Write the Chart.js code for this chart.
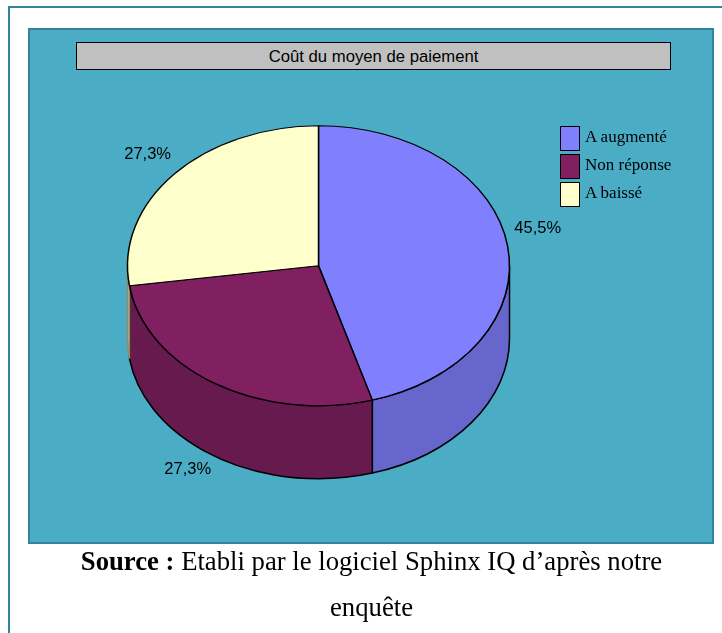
<!DOCTYPE html>
<html lang="fr">
<head>
<meta charset="utf-8">
<title>Coût du moyen de paiement</title>
<script src="https://cdn.jsdelivr.net/npm/chart.js@4"></script>
<style>
    html, body { margin: 0; padding: 0; background: #fff; }
    #page { position: relative; width: 722px; height: 633px; overflow: hidden; }
    #frame { position: absolute; left: 8px; top: 6px; width: 730px; height: 660px; border: 2px solid #31859b; }
    #panel { position: absolute; left: 28px; top: 28px; width: 682px; height: 512px; background: #4bacc6; border: 2px solid #31859b; }
    #chart { position: absolute; left: 0; top: 0; }
    #titleBox {
        position: absolute; left: 76px; top: 42px; width: 593px; height: 26px;
        background: #c0c0c0; border: 1px solid #000; text-align: center;
        font: 16.7px/27px "Liberation Sans", sans-serif; color: #000;
    }
    #legend { position: absolute; left: 560px; top: 126px; font: 17px "Liberation Serif", serif; color: #000; }
    .legendRow { position: relative; height: 28px; }
    .legendBox { position: absolute; left: 0; top: 0; width: 18px; height: 23px; border: 1.5px solid #000; }
    .legendText { position: absolute; left: 25px; top: 1px; white-space: nowrap; }
    #source { position: absolute; left: 0; top: 538px; width: 743px; text-align: center; font: 26.7px/46px "Liberation Serif", serif; color: #000; }
</style>
</head>
<body>
<div id="page">
    <div id="frame"></div>
    <div id="panel"></div>
    <canvas id="chart" width="722" height="633"></canvas>
    <div id="titleBox"></div>
    <div id="legend"></div>
    <div id="source"><b>Source :</b> Etabli par le logiciel Sphinx IQ d’après notre<br>enquête</div>
</div>
<script>
// Data
const chartTitle = 'Coût du moyen de paiement';
const categories = ['A augmenté', 'Non réponse', 'A baissé'];
const percentages = [45.5, 27.3, 27.3];
const topColors = ['#8080ff', '#802060', '#ffffcc'];
const wallColors = ['#6666cc', '#661a4d', '#cccca3'];
const wallStrokes = ['#000', '#000', '#8c8c66'];

// Pie seen from above: circle squashed vertically, with a wall below it
const SQUASH = 140 / 191;
const DEPTH = 73;
const LABEL_RADIUS = 1.17;
const labelNudge = [[-2, -14], [-10, -7], [-2, -4]];

document.getElementById('titleBox').textContent = chartTitle;

// Legend
const legendEl = document.getElementById('legend');
categories.forEach((name, i) => {
    const row = document.createElement('div');
    row.className = 'legendRow';
    const box = document.createElement('div');
    box.className = 'legendBox';
    box.style.background = topColors[i];
    const text = document.createElement('div');
    text.className = 'legendText';
    text.textContent = name;
    row.appendChild(box);
    row.appendChild(text);
    legendEl.appendChild(row);
});

const pie3d = {
    id: 'pie3d',
    beforeDatasetsDraw(chart) {
        const ctx = chart.ctx;
        const arcs = chart.getDatasetMeta(0).data;
        const cx = arcs[0].x;
        const cy = arcs[0].y;
        const rx = arcs[0].outerRadius;
        const ry = rx * SQUASH;

        // Side wall, only the front half of the pie shows it
        arcs.forEach((arc, i) => {
            const from = Math.max(arc.startAngle, 0);
            const to = Math.min(arc.endAngle, Math.PI);
            if (to <= from) return;
            ctx.beginPath();
            ctx.ellipse(cx, cy, rx, ry, 0, from, to);
            ctx.ellipse(cx, cy + DEPTH, rx, ry, 0, to, from, true);
            ctx.closePath();
            ctx.fillStyle = wallColors[i];
            ctx.fill();
            ctx.strokeStyle = wallStrokes[i];
            ctx.lineWidth = 1.5;
            ctx.stroke();
        });

        // Top face, squashed around the pie centre
        ctx.save();
        ctx.translate(cx, cy);
        ctx.scale(1, SQUASH);
        ctx.translate(-cx, -cy);
    },
    afterDatasetsDraw(chart) {
        const ctx = chart.ctx;
        ctx.restore();

        const arcs = chart.getDatasetMeta(0).data;
        ctx.fillStyle = '#000';
        ctx.font = '16.5px "Liberation Sans", sans-serif';
        ctx.textAlign = 'center';
        ctx.textBaseline = 'middle';
        arcs.forEach((arc, i) => {
            const mid = (arc.startAngle + arc.endAngle) / 2;
            const r = arc.outerRadius * LABEL_RADIUS;
            const x = arc.x + Math.cos(mid) * r + labelNudge[i][0];
            let y = arc.y + Math.sin(mid) * r * SQUASH + labelNudge[i][1];
            if (Math.sin(mid) > 0.3) y += DEPTH;
            const text = percentages[i].toFixed(1).replace('.', ',') + '%';
            ctx.fillText(text, x, y);
        });
    }
};

new Chart(document.getElementById('chart'), {
    type: 'pie',
    data: {
        labels: categories,
        datasets: [{
            data: percentages,
            backgroundColor: topColors,
            borderColor: '#000',
            borderWidth: 1.5,
            clip: false
        }]
    },
    options: {
        responsive: false,
        animation: false,
        layout: { padding: { left: 126.5, right: 211.5, top: 74, bottom: 175.5 } },
        plugins: {
            legend: { display: false },
            title: { display: false },
            tooltip: { enabled: false }
        }
    },
    plugins: [pie3d]
});
</script>
</body>
</html>
